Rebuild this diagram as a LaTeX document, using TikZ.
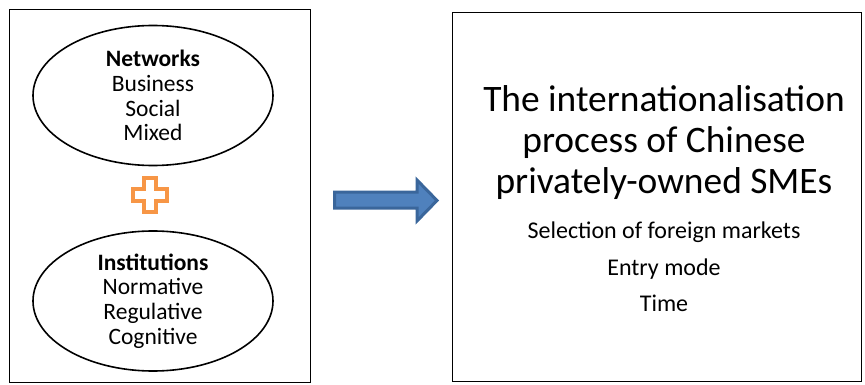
\documentclass[tikz,border=0pt]{standalone}
\usepackage{fontspec}
\setmainfont{Carlito}
\usetikzlibrary{shapes.geometric}
\definecolor{arrowfill}{HTML}{4F81BD}
\definecolor{arrowline}{HTML}{3A669B}
\definecolor{plusorange}{HTML}{F79646}
\tikzset{
  frame/.style={draw=black, line width=1.6pt},
  oval/.style={ellipse, draw=black, line width=1.6pt, minimum width=240pt, minimum height=140pt, inner sep=0pt, align=center, font=\fontsize{23.5}{24.7}\selectfont},
  bigarrow/.style={fill=arrowfill, draw=arrowline, line width=3pt, line join=miter},
  plusmark/.style={fill=white, draw=plusorange, line width=4pt, line join=miter}
}
\begin{document}
\begin{tikzpicture}[x=1pt,y=-1pt]
\useasboundingbox (0,0) rectangle (865,385);
% left frame
\draw[frame] (9.5,9.5) rectangle (310.5,382.5);
\node[oval] (net) at (153,95.5) {\textbf{Networks}\\Business\\Social\\Mixed};
\node[oval] (inst) at (153,301) {\textbf{Institutions}\\Normative\\Regulative\\Cognitive};
% plus sign
\coordinate (plus) at (150,195);
\draw[plusmark] ([shift={(-6,-17)}]plus) -- ++(12,0) -- ++(0,11) -- ++(11,0) -- ++(0,12) -- ++(-11,0) -- ++(0,11) -- ++(-12,0) -- ++(0,-11) -- ++(-11,0) -- ++(0,-12) -- ++(11,0) -- cycle;
% right frame
\draw[frame] (452.5,12.5) rectangle (861.5,381.5);
\node[align=center, font=\fontsize{37.4}{41}\selectfont] (title) at (664,143) {The internationalisation\\process of Chinese\\privately-owned SMEs};
\node[align=center, font=\fontsize{24}{36.5}\selectfont] (items) at (664,267) {Selection of foreign markets\\Entry mode\\Time};
% block arrow
\coordinate (at) at (334.5,200);
\draw[bigarrow] ([shift={(0,-8)}]at) -- (417,192) -- (417,180) -- (437,200.5) -- (417,221) -- (417,208) -- ([shift={(0,8)}]at) -- cycle;
\end{tikzpicture}
\end{document}
